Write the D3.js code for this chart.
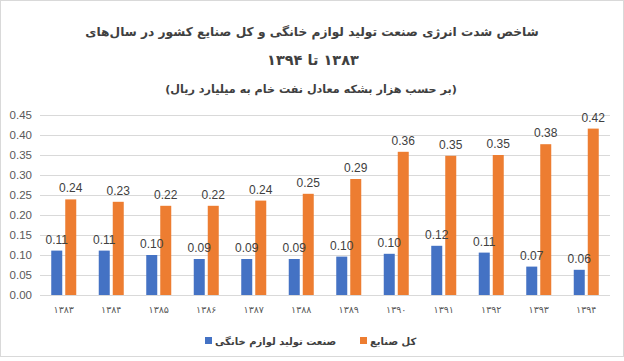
<!DOCTYPE html>
<html><head><meta charset="utf-8">
<script src="https://cdn.jsdelivr.net/npm/d3@7/dist/d3.min.js"></script>
<style>
html,body{margin:0;padding:0;background:#fff;}
svg{display:block;}
</style></head>
<body>
<svg id="c" width="624" height="361"></svg>
<script>
const years = ["۱۳۸۳","۱۳۸۴","۱۳۸۵","۱۳۸۶","۱۳۸۷","۱۳۸۸","۱۳۸۹","۱۳۹۰","۱۳۹۱","۱۳۹۲","۱۳۹۳","۱۳۹۴"];
const homeAppliances = [0.111,0.111,0.100,0.090,0.090,0.090,0.096,0.103,0.123,0.106,0.071,0.063];
const allIndustries = [0.239,0.233,0.223,0.223,0.236,0.253,0.290,0.358,0.348,0.350,0.377,0.416];
const seriesNames = ["صنعت تولید لوازم خانگی","کل صنایع"];
const yTicks = [0,0.05,0.10,0.15,0.20,0.25,0.30,0.35,0.40,0.45];
const titleLines = ["شاخص شدت انرژی صنعت تولید لوازم خانگی و کل صنایع کشور در سال‌های","۱۳۸۳ تا ۱۳۹۴"];
const subtitle = "(بر حسب هزار بشکه معادل نفت خام به میلیارد ریال)";

const svg = d3.select("#c");
const W = 624, H = 361;
const colors = ["#4472C4","#ED7D31"];
const fa = "'DejaVu Sans', sans-serif";
const lat = "'Liberation Sans', Arial, sans-serif";

svg.append("rect").attr("x",0.5).attr("y",0.5).attr("width",W-1).attr("height",356)
  .attr("fill","#fff").attr("stroke","#d9d9d9");

const x = d3.scaleBand().domain(years).range([40,610]);
const y = d3.scaleLinear().domain([0,0.45]).range([295,115]);

// gridlines
svg.append("g").selectAll("line").data(yTicks).join("line")
  .attr("x1",40).attr("x2",610)
  .attr("y1",d=>Math.round(y(d))+0.5).attr("y2",d=>Math.round(y(d))+0.5)
  .attr("stroke","#d9d9d9").attr("stroke-width",1);

// y axis
const ya = d3.axisLeft(y).tickValues(yTicks).tickFormat(d3.format(".2f")).tickSize(0).tickPadding(8);
const yg = svg.append("g").attr("transform","translate(40,0)").call(ya);
yg.select(".domain").remove();
yg.selectAll("text").attr("fill","#595959").style("font-family",lat).style("font-size","11.5px");

// x axis
const xa = d3.axisBottom(x).tickSize(0).tickPadding(11);
const xg = svg.append("g").attr("transform","translate(0,295)").call(xa);
xg.select(".domain").remove();
xg.selectAll("text").attr("fill","#595959").style("font-family",fa).style("font-size","9.5px").style("letter-spacing","1.5px");

// bars
const bw = 11, gap = 3;
const series = [homeAppliances, allIndustries];
const offs = [-(bw + gap/2), gap/2];
const barG = svg.append("g"), labG = svg.append("g");
series.forEach((vals, si) => {
  barG.append("g").selectAll("rect").data(vals).join("rect")
    .attr("x",(d,i)=>x(years[i]) + x.bandwidth()/2 + offs[si])
    .attr("y",d=>y(d)).attr("width",bw).attr("height",d=>y(0)-y(d))
    .attr("fill",colors[si]);
});
series.forEach((vals, si) => {
  labG.append("g").selectAll("text").data(vals).join("text")
    .attr("x",(d,i)=>x(years[i]) + x.bandwidth()/2 + offs[si] + bw/2)
    .attr("y",d=>y(d)-7)
    .attr("text-anchor","middle")
    .attr("fill","#404040").style("font-family",lat).style("font-size","12px")
    .text(d=>d3.format(".2f")(d));
});

// titles
function fit(sel, target){
  const w = sel.node().getComputedTextLength();
  const fs = parseFloat(sel.style("font-size"));
  sel.style("font-size",(fs*target/w)+"px");
}
const t1 = svg.append("text").attr("x",312).attr("y",36).attr("text-anchor","middle").attr("direction","rtl")
  .attr("fill","#404040").style("font-family",fa).style("font-weight","bold")
  .style("font-size","15px").text(titleLines[0]);
fit(t1,454);
const t2 = svg.append("text").attr("x",313).attr("y",65).attr("text-anchor","middle").attr("direction","rtl")
  .attr("fill","#404040").style("font-family",fa).style("font-weight","bold")
  .style("font-size","16px").text(titleLines[1]);
fit(t2,92);
const t3 = svg.append("text").attr("x",311).attr("y",93).attr("text-anchor","middle").attr("direction","rtl")
  .attr("fill","#404040").style("font-family",fa).style("font-weight","bold")
  .style("font-size","13px").text(subtitle);
fit(t3,292);

// legend
const legItems = [{name:seriesNames[0],c:colors[0],sx:205},{name:seriesNames[1],c:colors[1],sx:360}];
const lg = svg.append("g");
legItems.forEach(it=>{
  lg.append("rect").attr("x",it.sx).attr("y",337).attr("width",7).attr("height",7).attr("fill",it.c);
  lg.append("text").attr("x",it.sx+10).attr("y",345).attr("text-anchor","start")
    .attr("fill","#404040").style("font-family",fa).style("font-size","10px").style("font-weight","bold").text(it.name);
});
</script>
</body></html>
